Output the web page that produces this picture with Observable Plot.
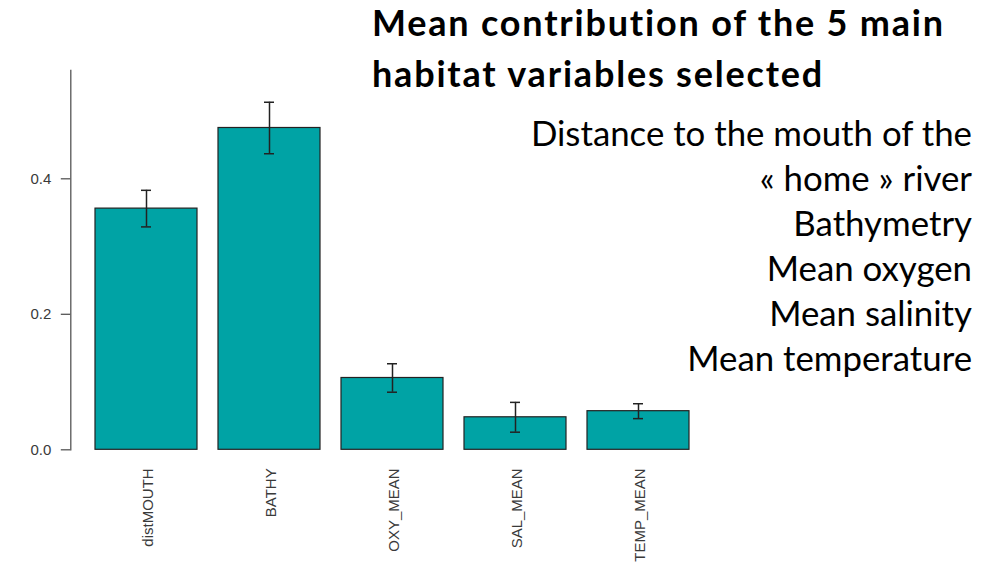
<!DOCTYPE html>
<html>
<head>
<meta charset="utf-8">
<script src="https://cdn.jsdelivr.net/npm/d3@7"></script>
<script src="https://cdn.jsdelivr.net/npm/@observablehq/plot@0.6"></script>
<style>
  html, body { margin: 0; padding: 0; background: #fff; }
  #wrap { position: relative; width: 986px; height: 566px; overflow: hidden; }
  #chart svg text { font-size: 15px !important; font-family: "Liberation Sans", Arial, sans-serif !important; }
  .title-line {
    position: absolute; left: 372px;
    font-family: Lato, "Open Sans", sans-serif; font-weight: 700;
    font-size: 36px; letter-spacing: 1.8px; line-height: 1; color: #000; white-space: nowrap;
  }
  #legend {
    position: absolute; right: 14px; top: 110px; text-align: right;
    font-family: Lato, "Open Sans", sans-serif; font-weight: 400;
    font-size: 34.8px; line-height: 45px; color: #000; white-space: nowrap;
  }
</style>
</head>
<body>
<div id="wrap">
  <div id="chart"></div>
  <div class="title-line" style="top: 4px;">Mean contribution of the 5 main</div>
  <div class="title-line" style="top: 55.4px;">habitat variables selected</div>
  <div id="legend"></div>
</div>
<script>
// Habitat variables and their mean contribution (± error)
const variables = ["distMOUTH", "BATHY", "OXY_MEAN", "SAL_MEAN", "TEMP_MEAN"];
const means = [0.356, 0.475, 0.106, 0.048, 0.057];
const errors = [0.027, 0.038, 0.021, 0.022, 0.011];
const yTicks = [0, 0.2, 0.4];
const legendLines = [
  "Distance to the mouth of the",
  "« home » river",
  "Bathymetry",
  "Mean oxygen",
  "Mean salinity",
  "Mean temperature"
];

const data = variables.map((v, i) => ({
  variable: v,
  mean: means[i],
  lo: means[i] - errors[i],
  hi: means[i] + errors[i]
}));

document.getElementById("legend").innerHTML = legendLines.join("<br>");

const chart = Plot.plot({
  width: 986,
  height: 566,
  marginLeft: 70.3,
  marginRight: 272.3,
  marginTop: 69.9,
  marginBottom: 116.7,
  style: { color: "#3a3a3a", background: "#fff" },
  x: { domain: variables, paddingInner: 0.2 / 1.2, paddingOuter: 0.186 },
  y: { domain: [0, 0.56] },
  marks: [
    Plot.frame({ anchor: "left", stroke: "#555", strokeWidth: 1.3 }),
    Plot.axisY({ ticks: yTicks, tickFormat: ".1f", tickSize: 9.5, tickPadding: 10, label: null, stroke: "#555", strokeWidth: 1.3 }),
    Plot.axisX({ tickSize: 0, tickRotate: -90, tickPadding: 18.5, label: null, dx: 2 }),
    Plot.barY(data, { x: "variable", y: "mean", fill: "#00a3a5", stroke: "#222", strokeWidth: 1.2 }),
    Plot.ruleX(data, { x: "variable", y1: "lo", y2: "hi", stroke: "#222", strokeWidth: 1.5 }),
    Plot.tickY(data, { x: "variable", y: "lo", insetLeft: 46, insetRight: 46, stroke: "#222", strokeWidth: 1.5 }),
    Plot.tickY(data, { x: "variable", y: "hi", insetLeft: 46, insetRight: 46, stroke: "#222", strokeWidth: 1.5 })
  ]
});
document.getElementById("chart").appendChild(chart);
</script>
</body>
</html>
